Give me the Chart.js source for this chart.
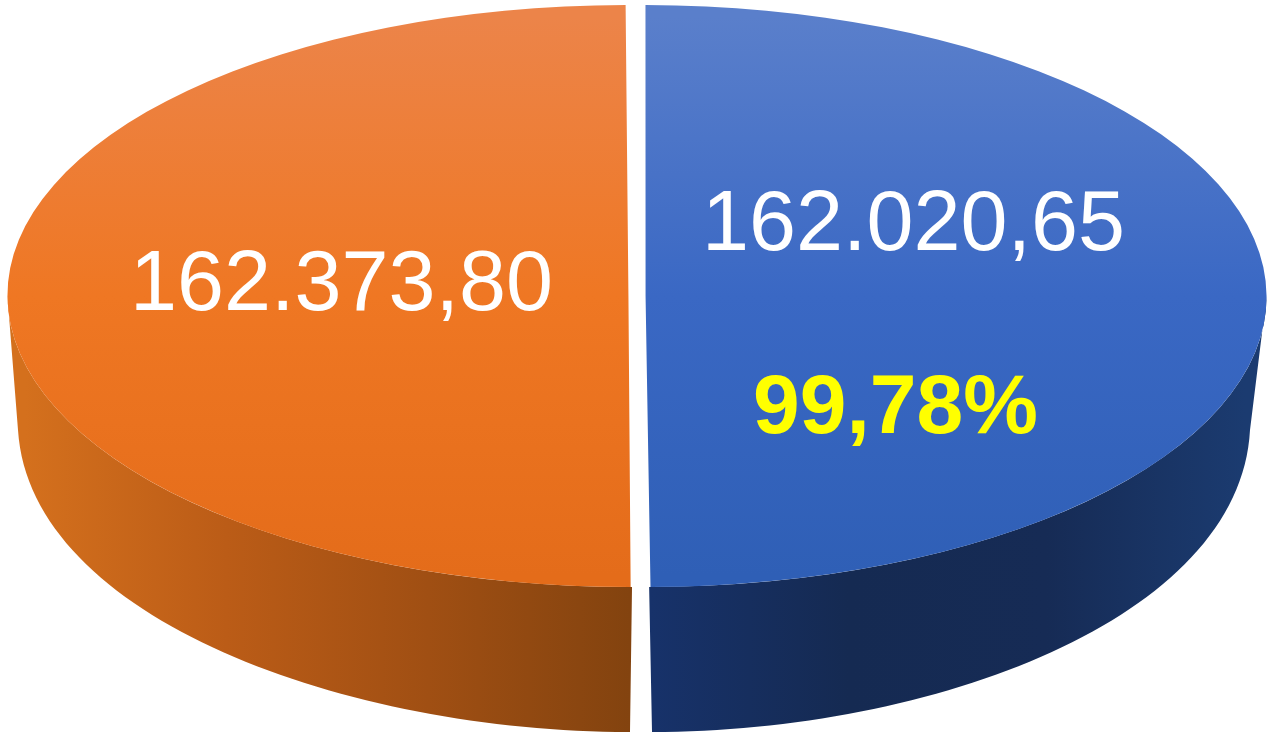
<!DOCTYPE html>
<html lang="en">
  <head>
    <meta charset="UTF-8" />
    <script src="https://cdn.jsdelivr.net/npm/chart.js@4"></script>
    <title>Pie</title>
    <style>
      html, body { margin: 0; padding: 0; background: #fff; overflow: hidden; }
      canvas { display: block; }
    </style>
  </head>
  <body>
    <canvas id="myChart" width="1268" height="735"></canvas>

    <script>
      const categories = ["A", "B"];
      const values = [162020.65, 162373.8];
      const valueLabels = ["162.020,65", "162.373,80"];
      const percentLabel = "99,78%";

      // top face stays an ellipse, the chart's circle gets squashed onto it
      const top3d = { cx: 637, cy: 296, rx: 621, ry: 291, skew: 0.005 };
      // lower outline of each wall, continues from the end of the slice's rim
      const wallEdge = [
        [[652, 732], [930, 732], [1240, 620], [1250, 430]],
        [[18, 430], [30, 620], [350, 732], [630, 732]]
      ];
      const faceStops = [
        ["#5a7fcb", "#3a68c4", "#2f5fb6"],
        ["#ec8449", "#ef7723", "#e46c1a"]
      ];
      const wallStops = [
        ["#17326a", "#152a52", "#162b55", "#1b3b70"],
        ["#d4701d", "#bb5c17", "#a04f13", "#83430f"]
      ];
      const wallSpan = [[650, 1245], [25, 630]];

      function faceGradient(c) {
        const stops = faceStops[c.dataIndex];
        const area = c.chart.chartArea;
        if (!area) return stops[1];
        const g = c.chart.ctx.createLinearGradient(0, area.top + 20, 0, area.bottom - 20);
        stops.forEach((s, n) => g.addColorStop(n / 2, s));
        return g;
      }

      function topTransform(ctx) {
        ctx.translate(top3d.cx, top3d.cy);
        ctx.transform(1, 0, top3d.skew, 1, 0, 0);
      }

      const pie3d = {
        id: "pie3d",
        beforeDatasetsDraw(chart) {
          const ctx = chart.ctx;
          const arcs = chart.getDatasetMeta(0).data;
          const nudge = arcs[0].options.offset / 4;
          // the arc element draws at outerRadius + offset/4
          const radius = arcs[0].outerRadius + nudge;
          const kx = top3d.rx / radius;
          const off = nudge * kx;
          arcs.forEach((arc, i) => {
            const sideways = Math.cos((arc.startAngle + arc.endAngle) / 2) > 0 ? off : -off;
            const a0 = Math.max(arc.startAngle, 0);
            const a1 = Math.min(arc.endAngle, Math.PI);
            const e = wallEdge[i];
            const g = ctx.createLinearGradient(wallSpan[i][0], 0, wallSpan[i][1], 0);
            wallStops[i].forEach((c, n) => g.addColorStop(n / 3, c));
            ctx.beginPath();
            ctx.save();
            topTransform(ctx);
            ctx.ellipse(sideways, 0, top3d.rx, top3d.ry, 0, a0, a1, false);
            ctx.restore();
            ctx.lineTo(e[0][0], e[0][1]);
            ctx.bezierCurveTo(e[1][0], e[1][1], e[2][0], e[2][1], e[3][0], e[3][1]);
            ctx.closePath();
            ctx.fillStyle = g;
            ctx.fill();
          });
          ctx.save();
          topTransform(ctx);
          ctx.scale(kx, top3d.ry / radius);
          ctx.translate(-arcs[0].x, -arcs[0].y);
        },
        afterDatasetsDraw(chart) {
          chart.ctx.restore();
        },
        afterDraw(chart) {
          const ctx = chart.ctx;
          ctx.save();
          ctx.textAlign = "left";
          ctx.textBaseline = "alphabetic";
          ctx.font = '84.5px "Liberation Sans"';
          ctx.fillStyle = "#ffffff";
          ctx.fillText(valueLabels[0], 702, 250);
          ctx.fillText(valueLabels[1], 130, 310);
          ctx.font = 'bold 84px "Liberation Sans"';
          ctx.fillStyle = "#ffff00";
          ctx.fillText(percentLabel, 753, 433);
          ctx.restore();
        }
      };

      new Chart(document.getElementById("myChart").getContext("2d"), {
        type: "pie",
        plugins: [pie3d],
        data: {
          labels: categories,
          datasets: [
            {
              data: values,
              borderWidth: 0,
              offset: 20,
              backgroundColor: faceGradient
            }
          ]
        },
        options: {
          responsive: false,
          animation: false,
          events: [],
          plugins: { legend: { display: false }, tooltip: { enabled: false } }
        }
      });
    </script>
  </body>
</html>
